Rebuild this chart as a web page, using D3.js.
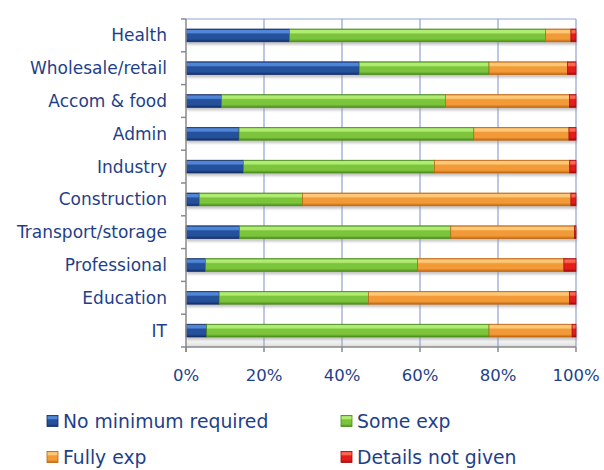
<!DOCTYPE html>
<html><head><meta charset="utf-8">
<script src="https://cdn.jsdelivr.net/npm/d3@7"></script>
<style>body{margin:0;background:#fff}svg{display:block}</style>
</head><body>
<svg id="c" width="604" height="470"></svg>
<script>
const categories = ["Health","Wholesale/retail","Accom & food","Admin","Industry","Construction","Transport/storage","Professional","Education","IT"];
const seriesNames = ["No minimum required","Some exp","Fully exp","Details not given"];
const noMinimum   = [26.5, 44.4,  9.1, 13.6, 14.7,  3.4, 13.7,  5.0,  8.5,  5.3];
const someExp     = [65.7, 33.3, 57.4, 60.2, 49.0, 26.5, 54.2, 54.4, 38.3, 72.4];
const fullyExp    = [ 6.5, 20.1, 31.8, 24.4, 34.7, 68.8, 31.7, 37.5, 51.5, 21.3];
const notGiven    = [ 1.3,  2.2,  1.7,  1.8,  1.6,  1.3,  0.4,  3.1,  1.7,  1.0];
const tickValues  = [0, 0.2, 0.4, 0.6, 0.8, 1.0];
const colors = ["#24509c","#7cc43c","#f29a38","#e31c1c"];
const lights = ["#4f86d8","#b0ec72","#ffc877","#ff6650"];
const darks  = ["#132d66","#4a8a1c","#c0650f","#a50a0a"];

const svg = d3.select("#c");
const M = {left:186, right:576, top:19, bottom:347};
const font = "'DejaVu Sans', sans-serif";
const textColor = "#1f3f8a";

const x = d3.scaleLinear().domain([0,1]).range([M.left, M.right]);
const y = d3.scaleBand().domain(categories).range([M.top, M.bottom]).paddingInner(0.61).paddingOuter(0.305);

const defs = svg.append("defs");
colors.forEach((c,i)=>{
  const g = defs.append("linearGradient").attr("id","g"+i).attr("x1",0).attr("y1",0).attr("x2",0).attr("y2",1);
  g.append("stop").attr("offset","0%").attr("stop-color",darks[i]);
  g.append("stop").attr("offset","10%").attr("stop-color",lights[i]);
  g.append("stop").attr("offset","28%").attr("stop-color",lights[i]);
  g.append("stop").attr("offset","40%").attr("stop-color",c);
  g.append("stop").attr("offset","78%").attr("stop-color",c);
  g.append("stop").attr("offset","100%").attr("stop-color",darks[i]);
});
const fl = defs.append("linearGradient").attr("id","floor").attr("x1",0).attr("y1",0).attr("x2",0).attr("y2",1);
fl.append("stop").attr("offset","0%").attr("stop-color","#ffffff");
fl.append("stop").attr("offset","100%").attr("stop-color","#dcdcdc");
const sh = defs.append("filter").attr("id","blur").attr("x","-5%").attr("y","-50%").attr("width","110%").attr("height","200%");
sh.append("feGaussianBlur").attr("stdDeviation",1.2);

// floor
svg.append("rect").attr("x",M.left).attr("y",M.bottom-8).attr("width",M.right-M.left).attr("height",8).attr("fill","url(#floor)");

// gridlines
svg.append("g").selectAll("line").data(tickValues.slice(1)).join("line")
  .attr("x1",d=>x(d)).attr("x2",d=>x(d)).attr("y1",M.top).attr("y2",M.bottom)
  .attr("stroke","#8fa3cf").attr("stroke-width",1.2);
svg.append("line").attr("x1",M.left).attr("x2",M.right).attr("y1",M.top).attr("y2",M.top)
  .attr("stroke","#8fa3cf").attr("stroke-width",1.2);

// stacked data
const rows = categories.map((c,i)=>({cat:c, v:[noMinimum[i],someExp[i],fullyExp[i],notGiven[i]]}));
const keys = [0,1,2,3];
const stack = d3.stack().keys(keys).value((d,k)=>d.v[k]/100)(rows);

// shadows
svg.append("g").selectAll("rect").data(rows).join("rect")
  .attr("x",x(0)+1).attr("y",d=>y(d.cat)+3)
  .attr("width",d=>x(d3.sum(d.v)/100)-x(0)).attr("height",y.bandwidth())
  .attr("fill","#9a9a9a").attr("opacity",0.55).attr("filter","url(#blur)");

stack.forEach((s,si)=>{
  svg.append("g").selectAll("rect").data(s).join("rect")
    .attr("x",d=>x(d[0])).attr("y",d=>y(d.data.cat))
    .attr("width",d=>Math.max(0,x(d[1])-x(d[0]))).attr("height",y.bandwidth())
    .attr("fill","url(#g"+si+")").attr("stroke",darks[si]).attr("stroke-width",0.7);
});

// left axis
const axisColor = "#8a8a8a";
svg.append("line").attr("x1",M.left).attr("x2",M.left).attr("y1",M.top).attr("y2",M.bottom+5).attr("stroke",axisColor).attr("stroke-width",1.5);
const bounds = categories.map(c=>y(c)-y.step()*y.paddingInner()/2);
bounds.push(M.bottom);
svg.append("g").selectAll("line").data(bounds).join("line")
  .attr("x1",M.left-5).attr("x2",M.left).attr("y1",d=>d).attr("y2",d=>d).attr("stroke",axisColor).attr("stroke-width",1.5);
// bottom axis
svg.append("line").attr("x1",M.left).attr("x2",M.right).attr("y1",M.bottom).attr("y2",M.bottom).attr("stroke",axisColor).attr("stroke-width",1.5);
svg.append("g").selectAll("line").data(tickValues).join("line")
  .attr("x1",d=>x(d)).attr("x2",d=>x(d)).attr("y1",M.bottom).attr("y2",M.bottom+5).attr("stroke",axisColor).attr("stroke-width",1.5);

// category labels
svg.append("g").selectAll("text").data(categories).join("text")
  .attr("x",167).attr("y",d=>y(d)+y.bandwidth()/2).attr("dy","0.35em")
  .attr("text-anchor","end").attr("font-family",font).attr("font-size",17).attr("fill",textColor).text(d=>d);
// tick labels
svg.append("g").selectAll("text").data(tickValues).join("text")
  .attr("x",d=>x(d)).attr("y",381).attr("text-anchor","middle")
  .attr("font-family",font).attr("font-size",16.5).attr("fill",textColor).text(d3.format(".0%"));

// legend
const legPos = [[47,421],[341,421],[47,457],[341,457]];
const lg = svg.append("g").selectAll("g").data(seriesNames).join("g")
  .attr("transform",(d,i)=>`translate(${legPos[i][0]},${legPos[i][1]})`);
lg.append("rect").attr("x",0).attr("y",-5.5).attr("width",11).attr("height",11)
  .attr("fill",(d,i)=>"url(#g"+i+")").attr("stroke",(d,i)=>darks[i]).attr("stroke-width",0.8);
lg.append("text").attr("x",16).attr("y",0).attr("dy","0.35em")
  .attr("font-family",font).attr("font-size",18.8).attr("fill",textColor).text(d=>d);
</script>
</body></html>
